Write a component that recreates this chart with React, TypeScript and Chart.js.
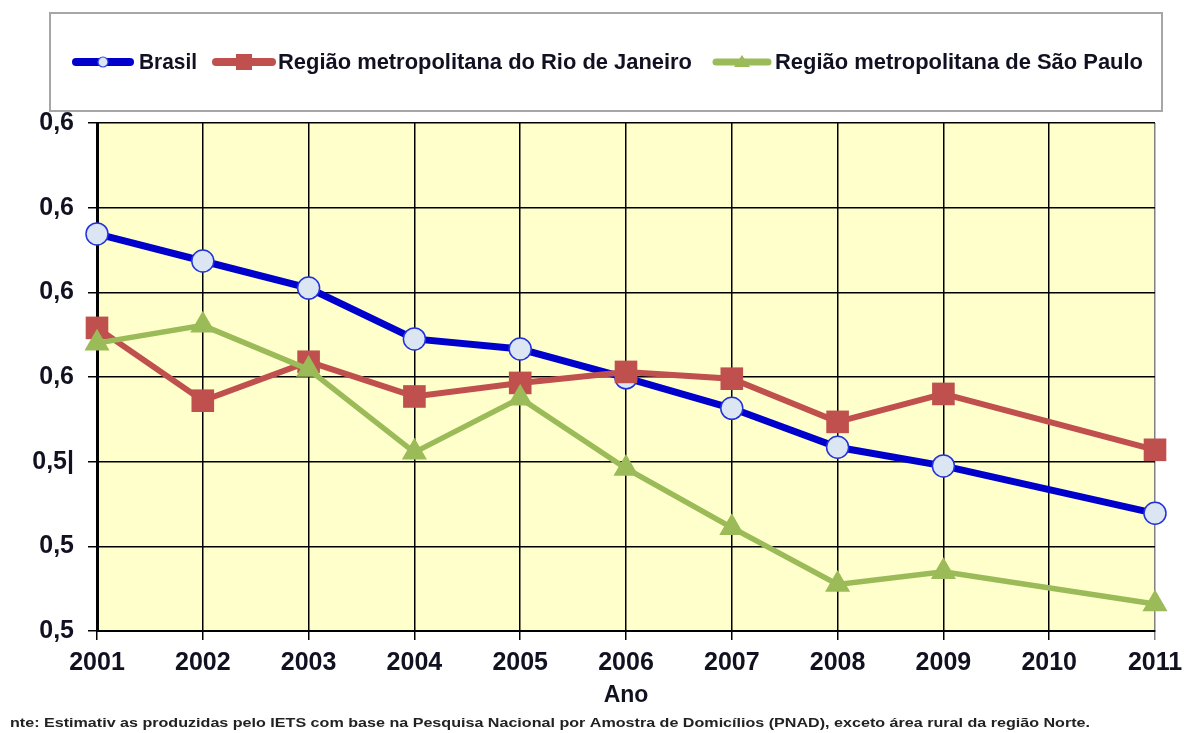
import React, { useEffect, useRef } from 'react';
import { Chart, registerables } from 'chart.js';

Chart.register(...registerables);

const years = ['2001', '2002', '2003', '2004', '2005', '2006', '2007', '2008', '2009', '2010', '2011'];
const brasil = [0.5769, 0.5737, 0.5705, 0.5645, 0.5633, 0.5599, 0.5563, 0.5517, 0.5495, null, 0.5439];
const rio = [0.5658, 0.5572, 0.5618, 0.5577, 0.5593, 0.5606, 0.5598, 0.5547, 0.558, null, 0.5514];
const saoPaulo = [0.564, 0.5661, 0.5609, 0.5511, 0.5575, 0.5492, 0.5422, 0.5355, 0.537, null, 0.5332];
const yTickValues = [0.53, 0.54, 0.55, 0.56, 0.57, 0.58, 0.59];
const yTickLabels = ['0,5', '0,5', '0,5|', '0,6', '0,6', '0,6', '0,6'];
const seriesNames = ['Brasil', 'Região metropolitana do Rio de Janeiro', 'Região metropolitana de São Paulo'];
const xTitle = 'Ano';
const footnote = 'nte: Estimativ as produzidas pelo IETS com base na Pesquisa Nacional por Amostra de Domicílios (PNAD), exceto área rural da região Norte.';

const BLUE = '#0000CC';
const RED = '#C0504D';
const GREEN = '#9BBB59';
const TEXT = '#111122';
const FONT = "'Liberation Sans', Arial, sans-serif";

const bgPlugin = {
  id: 'bgPlugin',
  beforeDraw(chart: any) {
    const { ctx, chartArea } = chart;
    ctx.save();
    ctx.fillStyle = '#FFFFCC';
    ctx.fillRect(chartArea.left, chartArea.top, chartArea.right - chartArea.left, chartArea.bottom - chartArea.top);
    ctx.restore();
  },
};

const legendPlugin = {
  id: 'legendPlugin',
  afterDraw(chart: any) {
    const { ctx } = chart;
    ctx.save();
    ctx.strokeStyle = '#A6A6A6';
    ctx.lineWidth = 2;
    ctx.strokeRect(50, 13, 1112, 98);
    const y = 62;
    const items = [
      { x0: 72, x1: 134, tx: 139, tw: 58, color: BLUE, lw: 8, marker: 'circle' },
      { x0: 212, x1: 276, tx: 278, tw: 414, color: RED, lw: 8, marker: 'rect' },
      { x0: 712, x1: 772, tx: 775, tw: 368, color: GREEN, lw: 7, marker: 'triangle' },
    ];
    items.forEach((it, i) => {
      ctx.strokeStyle = it.color;
      ctx.lineWidth = it.lw;
      ctx.lineCap = 'round';
      ctx.beginPath();
      ctx.moveTo(it.x0 + 4, y);
      ctx.lineTo(it.x1 - 4, y);
      ctx.stroke();
      const cx = (it.x0 + it.x1) / 2;
      if (it.marker === 'circle') {
        ctx.fillStyle = '#DCE6F2';
        ctx.strokeStyle = '#3344EE';
        ctx.lineWidth = 1.2;
        ctx.beginPath();
        ctx.arc(cx, y, 5, 0, Math.PI * 2);
        ctx.fill();
        ctx.stroke();
      } else if (it.marker === 'rect') {
        ctx.fillStyle = it.color;
        ctx.fillRect(cx - 8, y - 8, 16, 16);
      } else {
        ctx.fillStyle = it.color;
        ctx.beginPath();
        ctx.moveTo(cx, y - 7);
        ctx.lineTo(cx + 8, y + 5);
        ctx.lineTo(cx - 8, y + 5);
        ctx.closePath();
        ctx.fill();
      }
      ctx.fillStyle = TEXT;
      ctx.font = `bold 22px ${FONT}`;
      ctx.textBaseline = 'middle';
      ctx.textAlign = 'left';
      const w = ctx.measureText(seriesNames[i]).width;
      const sx = it.tw / w;
      ctx.save();
      ctx.translate(it.tx, y + 1);
      ctx.scale(sx, 1);
      ctx.fillText(seriesNames[i], 0, 0);
      ctx.restore();
    });
    // footnote
    ctx.fillStyle = '#222';
    ctx.font = `bold 12.5px ${FONT}`;
    ctx.textBaseline = 'middle';
    const fw = ctx.measureText(footnote).width;
    ctx.save();
    ctx.translate(10, 724);
    ctx.scale(1080 / fw, 1);
    ctx.fillText(footnote, 0, 0);
    ctx.restore();
    ctx.restore();
  },
};

export default function App() {
  const ref = useRef<HTMLCanvasElement | null>(null);
  useEffect(() => {
    document.body.style.margin = '0';
    if (!ref.current) return;
    const chart = new Chart(ref.current, {
      type: 'line',
      data: {
        labels: years,
        datasets: [
          {
            label: seriesNames[0],
            data: brasil,
            order: 3,
            borderColor: BLUE,
            borderWidth: 7,
            pointStyle: 'circle',
            pointRadius: 11,
            pointBackgroundColor: '#DCE6F2',
            pointBorderColor: '#2233DD',
            pointBorderWidth: 1.5,
            spanGaps: true,
          },
          {
            label: seriesNames[1],
            data: rio,
            order: 2,
            borderColor: RED,
            borderWidth: 6,
            pointStyle: 'rect',
            pointRadius: 16,
            pointBackgroundColor: RED,
            pointBorderColor: RED,
            pointBorderWidth: 0,
            spanGaps: true,
          },
          {
            label: seriesNames[2],
            data: saoPaulo,
            order: 1,
            borderColor: GREEN,
            borderWidth: 5.5,
            pointStyle: 'triangle',
            pointRadius: 14.5,
            pointBackgroundColor: GREEN,
            pointBorderColor: GREEN,
            pointBorderWidth: 0,
            spanGaps: true,
          },
        ] as any,
      },
      options: {
        responsive: false,
        animation: false,
        layout: { padding: { top: 123, right: 29, left: 0, bottom: 0 } },
        plugins: { legend: { display: false }, tooltip: { enabled: false } },
        scales: {
          x: {
            type: 'category',
            offset: false,
            grid: {
              color: (c: any) => (c.index === years.length - 1 ? '#808080' : '#000'),
              lineWidth: 1.5,
              tickLength: 9,
              offset: false,
            },
            border: { color: '#000', width: 2 },
            ticks: { color: TEXT, font: { family: FONT, size: 25, weight: 'bold' }, padding: 8, maxRotation: 0, autoSkip: false },
            title: { display: true, text: xTitle, color: TEXT, font: { family: FONT, size: 23, weight: 'bold' }, padding: { top: 0, bottom: 24 } },
            afterFit(scale: any) {
              scale.height = 102;
              scale.paddingRight = 0;
              scale.paddingLeft = 0;
            },
          },
          y: {
            min: 0.53,
            max: 0.59,
            afterBuildTicks(scale: any) { scale.ticks = yTickValues.map((v) => ({ value: v })); },
            grid: { color: '#000', lineWidth: 1.5, tickLength: 9 },
            border: { color: '#000', width: 3 },
            ticks: {
              color: TEXT,
              font: { family: FONT, size: 25, weight: 'bold' },
              padding: 14,
              callback: (_v: any, i: number) => yTickLabels[i],
            },
            afterFit(scale: any) {
              scale.width = 97;
              scale.paddingTop = 0;
              scale.paddingBottom = 0;
            },
          },
        },
      } as any,
      plugins: [bgPlugin, legendPlugin],
    });
    return () => chart.destroy();
  }, []);
  return (
    <div style={{ position: 'absolute', left: 0, top: 0, width: 1184, height: 733 }}>
      <canvas ref={ref} width={1184} height={733} />
    </div>
  );
}
